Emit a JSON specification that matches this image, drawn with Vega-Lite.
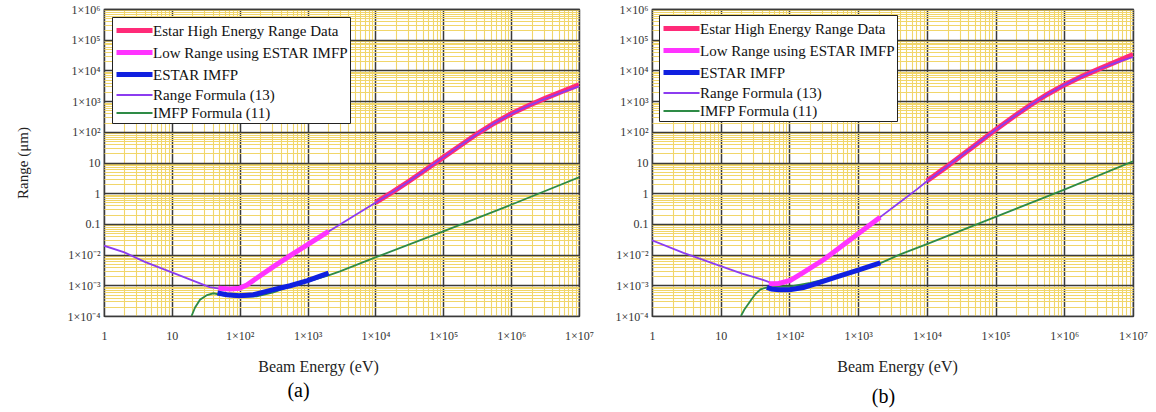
{
 "$schema": "https://vega.github.io/schema/vega-lite/v6.json",
 "background": "white",
 "padding": {"left": 14, "top": 2, "right": 0, "bottom": 0},
 "spacing": 19,
 "config": {
  "font": "Liberation Serif",
  "view": {"stroke": "#333", "strokeWidth": 1.2},
  "axis": {"labelFont": "Liberation Serif", "titleFont": "Liberation Serif"},
  "legend": {"labelFont": "Liberation Serif"},
  "title": {"font": "Liberation Serif"}
 },
 "datasets": {
  "d": [
   {"p":"a","s":"Estar High Energy Range Data","E":1e4,"R":0.49},{"p":"a","s":"Estar High Energy Range Data","E":17800,"R":1.08},{"p":"a","s":"Estar High Energy Range Data","E":31600,"R":2.5},{"p":"a","s":"Estar High Energy Range Data","E":56200,"R":6.0},{"p":"a","s":"Estar High Energy Range Data","E":1e5,"R":14.7},{"p":"a","s":"Estar High Energy Range Data","E":178000,"R":36},{"p":"a","s":"Estar High Energy Range Data","E":316000,"R":86},{"p":"a","s":"Estar High Energy Range Data","E":562000,"R":190},{"p":"a","s":"Estar High Energy Range Data","E":1e6,"R":385},{"p":"a","s":"Estar High Energy Range Data","E":1780000,"R":710},{"p":"a","s":"Estar High Energy Range Data","E":3160000,"R":1230},{"p":"a","s":"Estar High Energy Range Data","E":5620000,"R":2050},{"p":"a","s":"Estar High Energy Range Data","E":1e7,"R":3400},
   {"p":"a","s":"Low Range using ESTAR IMFP","E":48.5,"R":0.0008},{"p":"a","s":"Low Range using ESTAR IMFP","E":72,"R":0.00076},{"p":"a","s":"Low Range using ESTAR IMFP","E":99,"R":0.0008},{"p":"a","s":"Low Range using ESTAR IMFP","E":127,"R":0.00102},{"p":"a","s":"Low Range using ESTAR IMFP","E":179,"R":0.00173},{"p":"a","s":"Low Range using ESTAR IMFP","E":314,"R":0.00404},{"p":"a","s":"Low Range using ESTAR IMFP","E":553,"R":0.0092},{"p":"a","s":"Low Range using ESTAR IMFP","E":1000,"R":0.021},{"p":"a","s":"Low Range using ESTAR IMFP","E":2040,"R":0.057},
   {"p":"a","s":"ESTAR IMFP","E":47,"R":0.00056},{"p":"a","s":"ESTAR IMFP","E":64.5,"R":0.000494},{"p":"a","s":"ESTAR IMFP","E":99,"R":0.00046},{"p":"a","s":"ESTAR IMFP","E":159,"R":0.000494},{"p":"a","s":"ESTAR IMFP","E":314,"R":0.00072},{"p":"a","s":"ESTAR IMFP","E":553,"R":0.00097},{"p":"a","s":"ESTAR IMFP","E":1000,"R":0.00141},{"p":"a","s":"ESTAR IMFP","E":2040,"R":0.0025},
   {"p":"a","s":"Range Formula (13)","E":1,"R":0.0195},{"p":"a","s":"Range Formula (13)","E":2,"R":0.0118},{"p":"a","s":"Range Formula (13)","E":4,"R":0.0058},{"p":"a","s":"Range Formula (13)","E":10,"R":0.00265},{"p":"a","s":"Range Formula (13)","E":20,"R":0.00145},{"p":"a","s":"Range Formula (13)","E":36,"R":0.00087},{"p":"a","s":"Range Formula (13)","E":48,"R":0.0008},{"p":"a","s":"Range Formula (13)","E":72,"R":0.00076},{"p":"a","s":"Range Formula (13)","E":99,"R":0.0008},{"p":"a","s":"Range Formula (13)","E":127,"R":0.00102},{"p":"a","s":"Range Formula (13)","E":179,"R":0.00173},{"p":"a","s":"Range Formula (13)","E":314,"R":0.00404},{"p":"a","s":"Range Formula (13)","E":553,"R":0.0092},{"p":"a","s":"Range Formula (13)","E":1000,"R":0.021},{"p":"a","s":"Range Formula (13)","E":2040,"R":0.057},{"p":"a","s":"Range Formula (13)","E":5000,"R":0.19},{"p":"a","s":"Range Formula (13)","E":1e4,"R":0.49},{"p":"a","s":"Range Formula (13)","E":17800,"R":1.08},{"p":"a","s":"Range Formula (13)","E":31600,"R":2.5},{"p":"a","s":"Range Formula (13)","E":56200,"R":6.0},{"p":"a","s":"Range Formula (13)","E":1e5,"R":14.7},{"p":"a","s":"Range Formula (13)","E":178000,"R":36},{"p":"a","s":"Range Formula (13)","E":316000,"R":85},{"p":"a","s":"Range Formula (13)","E":562000,"R":189},{"p":"a","s":"Range Formula (13)","E":1e6,"R":382},{"p":"a","s":"Range Formula (13)","E":1780000,"R":700},{"p":"a","s":"Range Formula (13)","E":3160000,"R":1194},{"p":"a","s":"Range Formula (13)","E":5620000,"R":1930},{"p":"a","s":"Range Formula (13)","E":1e7,"R":3050},
   {"p":"a","s":"IMFP Formula (11)","E":19.5,"R":0.0001},{"p":"a","s":"IMFP Formula (11)","E":22,"R":0.00019},{"p":"a","s":"IMFP Formula (11)","E":26,"R":0.00034},{"p":"a","s":"IMFP Formula (11)","E":33,"R":0.00048},{"p":"a","s":"IMFP Formula (11)","E":41,"R":0.00055},{"p":"a","s":"IMFP Formula (11)","E":57,"R":0.00047},{"p":"a","s":"IMFP Formula (11)","E":100,"R":0.00041},{"p":"a","s":"IMFP Formula (11)","E":178,"R":0.00044},{"p":"a","s":"IMFP Formula (11)","E":314,"R":0.00059},{"p":"a","s":"IMFP Formula (11)","E":500,"R":0.00086},{"p":"a","s":"IMFP Formula (11)","E":1000,"R":0.00132},{"p":"a","s":"IMFP Formula (11)","E":2040,"R":0.0021},{"p":"a","s":"IMFP Formula (11)","E":3000,"R":0.00285},{"p":"a","s":"IMFP Formula (11)","E":1e4,"R":0.0081},{"p":"a","s":"IMFP Formula (11)","E":1e5,"R":0.057},{"p":"a","s":"IMFP Formula (11)","E":1e6,"R":0.42},{"p":"a","s":"IMFP Formula (11)","E":1e7,"R":3.3},
   {"p":"b","s":"Estar High Energy Range Data","E":1e4,"R":2.51},{"p":"b","s":"Estar High Energy Range Data","E":17800,"R":6.3},{"p":"b","s":"Estar High Energy Range Data","E":31600,"R":16.5},{"p":"b","s":"Estar High Energy Range Data","E":56200,"R":44},{"p":"b","s":"Estar High Energy Range Data","E":1e5,"R":116},{"p":"b","s":"Estar High Energy Range Data","E":178000,"R":297},{"p":"b","s":"Estar High Energy Range Data","E":316000,"R":724},{"p":"b","s":"Estar High Energy Range Data","E":562000,"R":1640},{"p":"b","s":"Estar High Energy Range Data","E":1e6,"R":3370},{"p":"b","s":"Estar High Energy Range Data","E":1780000,"R":6280},{"p":"b","s":"Estar High Energy Range Data","E":3160000,"R":11000},{"p":"b","s":"Estar High Energy Range Data","E":5620000,"R":19000},{"p":"b","s":"Estar High Energy Range Data","E":1e7,"R":33000},
   {"p":"b","s":"Low Range using ESTAR IMFP","E":50,"R":0.0011},{"p":"b","s":"Low Range using ESTAR IMFP","E":70,"R":0.00115},{"p":"b","s":"Low Range using ESTAR IMFP","E":103,"R":0.00145},{"p":"b","s":"Low Range using ESTAR IMFP","E":150,"R":0.0024},{"p":"b","s":"Low Range using ESTAR IMFP","E":317,"R":0.0069},{"p":"b","s":"Low Range using ESTAR IMFP","E":1000,"R":0.048},{"p":"b","s":"Low Range using ESTAR IMFP","E":2090,"R":0.166},
   {"p":"b","s":"ESTAR IMFP","E":47,"R":0.00085},{"p":"b","s":"ESTAR IMFP","E":55,"R":0.00075},{"p":"b","s":"ESTAR IMFP","E":70,"R":0.00072},{"p":"b","s":"ESTAR IMFP","E":100,"R":0.00072},{"p":"b","s":"ESTAR IMFP","E":160,"R":0.00085},{"p":"b","s":"ESTAR IMFP","E":250,"R":0.00115},{"p":"b","s":"ESTAR IMFP","E":500,"R":0.0019},{"p":"b","s":"ESTAR IMFP","E":1000,"R":0.0031},{"p":"b","s":"ESTAR IMFP","E":2100,"R":0.0054},
   {"p":"b","s":"Range Formula (13)","E":1,"R":0.029},{"p":"b","s":"Range Formula (13)","E":2.87,"R":0.0114},{"p":"b","s":"Range Formula (13)","E":10,"R":0.0042},{"p":"b","s":"Range Formula (13)","E":20,"R":0.00245},{"p":"b","s":"Range Formula (13)","E":38,"R":0.0016},{"p":"b","s":"Range Formula (13)","E":53,"R":0.00123},{"p":"b","s":"Range Formula (13)","E":70,"R":0.00125},{"p":"b","s":"Range Formula (13)","E":103,"R":0.00145},{"p":"b","s":"Range Formula (13)","E":150,"R":0.0024},{"p":"b","s":"Range Formula (13)","E":317,"R":0.0069},{"p":"b","s":"Range Formula (13)","E":1000,"R":0.048},{"p":"b","s":"Range Formula (13)","E":2090,"R":0.166},{"p":"b","s":"Range Formula (13)","E":4000,"R":0.5},{"p":"b","s":"Range Formula (13)","E":7300,"R":1.38},{"p":"b","s":"Range Formula (13)","E":1e4,"R":2.45},{"p":"b","s":"Range Formula (13)","E":17800,"R":6.3},{"p":"b","s":"Range Formula (13)","E":31600,"R":16.5},{"p":"b","s":"Range Formula (13)","E":56200,"R":44},{"p":"b","s":"Range Formula (13)","E":1e5,"R":116},{"p":"b","s":"Range Formula (13)","E":178000,"R":297},{"p":"b","s":"Range Formula (13)","E":316000,"R":724},{"p":"b","s":"Range Formula (13)","E":562000,"R":1640},{"p":"b","s":"Range Formula (13)","E":1e6,"R":3370},{"p":"b","s":"Range Formula (13)","E":1780000,"R":6280},{"p":"b","s":"Range Formula (13)","E":3160000,"R":10900},{"p":"b","s":"Range Formula (13)","E":5620000,"R":18000},{"p":"b","s":"Range Formula (13)","E":1e7,"R":27200},
   {"p":"b","s":"IMFP Formula (11)","E":19.7,"R":0.0001},{"p":"b","s":"IMFP Formula (11)","E":22,"R":0.00016},{"p":"b","s":"IMFP Formula (11)","E":27,"R":0.00031},{"p":"b","s":"IMFP Formula (11)","E":32,"R":0.00052},{"p":"b","s":"IMFP Formula (11)","E":38,"R":0.00074},{"p":"b","s":"IMFP Formula (11)","E":50,"R":0.00088},{"p":"b","s":"IMFP Formula (11)","E":60,"R":0.00093},{"p":"b","s":"IMFP Formula (11)","E":100,"R":0.00091},{"p":"b","s":"IMFP Formula (11)","E":200,"R":0.0012},{"p":"b","s":"IMFP Formula (11)","E":500,"R":0.00195},{"p":"b","s":"IMFP Formula (11)","E":1000,"R":0.0029},{"p":"b","s":"IMFP Formula (11)","E":2000,"R":0.005},{"p":"b","s":"IMFP Formula (11)","E":4000,"R":0.01},{"p":"b","s":"IMFP Formula (11)","E":1e4,"R":0.022},{"p":"b","s":"IMFP Formula (11)","E":1e5,"R":0.17},{"p":"b","s":"IMFP Formula (11)","E":1e6,"R":1.3},{"p":"b","s":"IMFP Formula (11)","E":1e7,"R":11}
  ]
 },
 "resolve": {
  "scale": {"x": "independent", "y": "independent", "color": "independent", "strokeWidth": "independent"},
  "legend": {"color": "independent", "strokeWidth": "independent"}
 },
 "hconcat": [
  {
   "width": 475, "height": 307,
   "data": {"name": "d"},
   "title": {"text": "(a)", "orient": "bottom", "dx": -43, "offset": 7, "fontSize": 20, "font": "Liberation Serif", "fontWeight": "normal", "color": "#000"},
   "encoding": {
    "x": {"field": "E", "type": "quantitative", "scale": {"type": "log", "domain": [1, 10000000]},
     "axis": {"values": [1,2,3,4,5,6,7,8,9,10,20,30,40,50,60,70,80,90,100,200,300,400,500,600,700,800,900,1000,2000,3000,4000,5000,6000,7000,8000,9000,10000,20000,30000,40000,50000,60000,70000,80000,90000,100000,200000,300000,400000,500000,600000,700000,800000,900000,1000000,2000000,3000000,4000000,5000000,6000000,7000000,8000000,9000000,10000000],
      "labelExpr": "abs(log(datum.value)/LN10 - round(log(datum.value)/LN10)) < 0.001 ? ['1×10⁻⁴','1×10⁻³','1×10⁻²','0.1','1','10','1×10²','1×10³','1×10⁴','1×10⁵','1×10⁶','1×10⁷'][round(log(datum.value)/LN10)+4] : ''",
      "title": "Beam Energy (eV)", "titleX": 214, "titleY": 42, "titleBaseline": "top",
      "ticks": false, "tickSize": 0, "domain": false, "labelPadding": 14, "labelOverlap": false, "labelFlush": false, "labelBound": false,
      "labelFont": "Liberation Serif", "labelFontSize": 12, "labelColor": "#333",
      "titleFont": "Liberation Serif", "titleFontSize": 16, "titleFontWeight": "normal", "titleColor": "#222",
      "grid": true, "gridOpacity": 1,
      "gridColor": {"condition": {"test": "abs(log(datum.value)/LN10 - round(log(datum.value)/LN10)) < 0.001", "value": "#3a3a3a"}, "value": "#f1d66a"},
      "gridWidth": {"condition": {"test": "abs(log(datum.value)/LN10 - round(log(datum.value)/LN10)) < 0.001", "value": 1.5}, "value": 1.1}}},
    "y": {"field": "R", "type": "quantitative", "scale": {"type": "log", "domain": [0.0001, 1000000]},
     "axis": {"values": [0.0001,0.0002,0.0003,0.0004,0.0005,0.0006,0.0007,0.0008,0.0009,0.001,0.002,0.003,0.004,0.005,0.006,0.007,0.008,0.009,0.01,0.02,0.03,0.04,0.05,0.06,0.07,0.08,0.09,0.1,0.2,0.3,0.4,0.5,0.6,0.7,0.8,0.9,1,2,3,4,5,6,7,8,9,10,20,30,40,50,60,70,80,90,100,200,300,400,500,600,700,800,900,1000,2000,3000,4000,5000,6000,7000,8000,9000,10000,20000,30000,40000,50000,60000,70000,80000,90000,100000,200000,300000,400000,500000,600000,700000,800000,900000,1000000],
      "labelExpr": "abs(log(datum.value)/LN10 - round(log(datum.value)/LN10)) < 0.001 ? ['1×10⁻⁴','1×10⁻³','1×10⁻²','0.1','1','10','1×10²','1×10³','1×10⁴','1×10⁵','1×10⁶','1×10⁷'][round(log(datum.value)/LN10)+4] : ''",
      "title": "Range (μm)", "titlePadding": 37,
      "ticks": false, "tickSize": 0, "domain": false, "labelPadding": 4, "labelOverlap": false, "labelFlush": false, "labelBound": false,
      "labelFont": "Liberation Serif", "labelFontSize": 12, "labelColor": "#333",
      "titleFont": "Liberation Serif", "titleFontSize": 15, "titleFontWeight": "normal", "titleColor": "#222",
      "grid": true, "gridOpacity": 1,
      "gridColor": {"condition": {"test": "abs(log(datum.value)/LN10 - round(log(datum.value)/LN10)) < 0.001", "value": "#3a3a3a"}, "value": "#f1d66a"},
      "gridWidth": {"condition": {"test": "abs(log(datum.value)/LN10 - round(log(datum.value)/LN10)) < 0.001", "value": 1.5}, "value": 1.1}}},
    "color": {"field": "s", "type": "nominal",
     "scale": {"domain": ["Estar High Energy Range Data", "Low Range using ESTAR IMFP", "ESTAR IMFP", "Range Formula (13)", "IMFP Formula (11)"], "range": ["#ff2a78", "#ff33ff", "#1020e0", "#8c3cf0", "#2e8b46"]},
     "legend": {"orient": "none", "legendX": 8, "legendY": 8, "title": null, "symbolType": "M-1,0H3", "symbolSize": 324, "labelFont": "Liberation Serif", "labelFontSize": 15, "labelColor": "#111", "fillColor": "white", "strokeColor": "#222", "padding": 2, "rowPadding": -1.4, "labelOffset": 16, "labelLimit": 400}},
    "strokeWidth": {"field": "s", "type": "nominal",
     "scale": {"type": "ordinal", "domain": ["Estar High Energy Range Data", "Low Range using ESTAR IMFP", "ESTAR IMFP", "Range Formula (13)", "IMFP Formula (11)"], "range": [5, 5, 5, 1.8, 1.8]},
     "legend": {"orient": "none", "legendX": 8, "legendY": 8, "title": null, "symbolType": "M-1,0H3", "symbolSize": 324, "labelFont": "Liberation Serif", "labelFontSize": 15, "labelColor": "#111", "fillColor": "white", "strokeColor": "#222", "padding": 2, "rowPadding": -1.4, "labelOffset": 16, "labelLimit": 400}}
   },
   "layer": [
    {"transform": [{"filter": "datum.p == 'a' && datum.s == 'Estar High Energy Range Data'"}], "mark": {"type": "line", "clip": true}},
    {"transform": [{"filter": "datum.p == 'a' && datum.s == 'Range Formula (13)'"}], "mark": {"type": "line", "clip": true}},
    {"transform": [{"filter": "datum.p == 'a' && datum.s == 'IMFP Formula (11)'"}], "mark": {"type": "line", "clip": true}},
    {"transform": [{"filter": "datum.p == 'a' && datum.s == 'Low Range using ESTAR IMFP'"}], "mark": {"type": "line", "clip": true}},
    {"transform": [{"filter": "datum.p == 'a' && datum.s == 'ESTAR IMFP'"}], "mark": {"type": "line", "clip": true}}
   ]
  },
  {
   "width": 481, "height": 307,
   "data": {"name": "d"},
   "title": {"text": "(b)", "orient": "bottom", "dx": -9, "offset": 13, "fontSize": 20, "font": "Liberation Serif", "fontWeight": "normal", "color": "#000"},
   "encoding": {
    "x": {"field": "E", "type": "quantitative", "scale": {"type": "log", "domain": [1, 10000000]},
     "axis": {"values": [1,2,3,4,5,6,7,8,9,10,20,30,40,50,60,70,80,90,100,200,300,400,500,600,700,800,900,1000,2000,3000,4000,5000,6000,7000,8000,9000,10000,20000,30000,40000,50000,60000,70000,80000,90000,100000,200000,300000,400000,500000,600000,700000,800000,900000,1000000,2000000,3000000,4000000,5000000,6000000,7000000,8000000,9000000,10000000],
      "labelExpr": "abs(log(datum.value)/LN10 - round(log(datum.value)/LN10)) < 0.001 ? ['1×10⁻⁴','1×10⁻³','1×10⁻²','0.1','1','10','1×10²','1×10³','1×10⁴','1×10⁵','1×10⁶','1×10⁷'][round(log(datum.value)/LN10)+4] : ''",
      "title": "Beam Energy (eV)", "titleX": 245, "titleY": 42, "titleBaseline": "top",
      "ticks": false, "tickSize": 0, "domain": false, "labelPadding": 14, "labelOverlap": false, "labelFlush": false, "labelBound": false,
      "labelFont": "Liberation Serif", "labelFontSize": 12, "labelColor": "#333",
      "titleFont": "Liberation Serif", "titleFontSize": 16, "titleFontWeight": "normal", "titleColor": "#222",
      "grid": true, "gridOpacity": 1,
      "gridColor": {"condition": {"test": "abs(log(datum.value)/LN10 - round(log(datum.value)/LN10)) < 0.001", "value": "#3a3a3a"}, "value": "#f1d66a"},
      "gridWidth": {"condition": {"test": "abs(log(datum.value)/LN10 - round(log(datum.value)/LN10)) < 0.001", "value": 1.5}, "value": 1.1}}},
    "y": {"field": "R", "type": "quantitative", "scale": {"type": "log", "domain": [0.0001, 1000000]},
     "axis": {"values": [0.0001,0.0002,0.0003,0.0004,0.0005,0.0006,0.0007,0.0008,0.0009,0.001,0.002,0.003,0.004,0.005,0.006,0.007,0.008,0.009,0.01,0.02,0.03,0.04,0.05,0.06,0.07,0.08,0.09,0.1,0.2,0.3,0.4,0.5,0.6,0.7,0.8,0.9,1,2,3,4,5,6,7,8,9,10,20,30,40,50,60,70,80,90,100,200,300,400,500,600,700,800,900,1000,2000,3000,4000,5000,6000,7000,8000,9000,10000,20000,30000,40000,50000,60000,70000,80000,90000,100000,200000,300000,400000,500000,600000,700000,800000,900000,1000000],
      "labelExpr": "abs(log(datum.value)/LN10 - round(log(datum.value)/LN10)) < 0.001 ? ['1×10⁻⁴','1×10⁻³','1×10⁻²','0.1','1','10','1×10²','1×10³','1×10⁴','1×10⁵','1×10⁶','1×10⁷'][round(log(datum.value)/LN10)+4] : ''",
      "title": null,
      "ticks": false, "tickSize": 0, "domain": false, "labelPadding": 4, "labelOverlap": false, "labelFlush": false, "labelBound": false,
      "labelFont": "Liberation Serif", "labelFontSize": 12, "labelColor": "#333",
      "grid": true, "gridOpacity": 1,
      "gridColor": {"condition": {"test": "abs(log(datum.value)/LN10 - round(log(datum.value)/LN10)) < 0.001", "value": "#3a3a3a"}, "value": "#f1d66a"},
      "gridWidth": {"condition": {"test": "abs(log(datum.value)/LN10 - round(log(datum.value)/LN10)) < 0.001", "value": 1.5}, "value": 1.1}}},
    "color": {"field": "s", "type": "nominal",
     "scale": {"domain": ["Estar High Energy Range Data", "Low Range using ESTAR IMFP", "ESTAR IMFP", "Range Formula (13)", "IMFP Formula (11)"], "range": ["#ff2a78", "#ff33ff", "#1020e0", "#8c3cf0", "#2e8b46"]},
     "legend": {"orient": "none", "legendX": 7, "legendY": 6, "title": null, "symbolType": "M-1,0H3", "symbolSize": 324, "labelFont": "Liberation Serif", "labelFontSize": 15, "labelColor": "#111", "fillColor": "white", "strokeColor": "#222", "padding": 2, "rowPadding": -1.4, "labelOffset": 16, "labelLimit": 400}},
    "strokeWidth": {"field": "s", "type": "nominal",
     "scale": {"type": "ordinal", "domain": ["Estar High Energy Range Data", "Low Range using ESTAR IMFP", "ESTAR IMFP", "Range Formula (13)", "IMFP Formula (11)"], "range": [5, 5, 5, 1.8, 1.8]},
     "legend": {"orient": "none", "legendX": 7, "legendY": 6, "title": null, "symbolType": "M-1,0H3", "symbolSize": 324, "labelFont": "Liberation Serif", "labelFontSize": 15, "labelColor": "#111", "fillColor": "white", "strokeColor": "#222", "padding": 2, "rowPadding": -1.4, "labelOffset": 16, "labelLimit": 400}}
   },
   "layer": [
    {"transform": [{"filter": "datum.p == 'b' && datum.s == 'Estar High Energy Range Data'"}], "mark": {"type": "line", "clip": true}},
    {"transform": [{"filter": "datum.p == 'b' && datum.s == 'Range Formula (13)'"}], "mark": {"type": "line", "clip": true}},
    {"transform": [{"filter": "datum.p == 'b' && datum.s == 'IMFP Formula (11)'"}], "mark": {"type": "line", "clip": true}},
    {"transform": [{"filter": "datum.p == 'b' && datum.s == 'Low Range using ESTAR IMFP'"}], "mark": {"type": "line", "clip": true}},
    {"transform": [{"filter": "datum.p == 'b' && datum.s == 'ESTAR IMFP'"}], "mark": {"type": "line", "clip": true}}
   ]
  }
 ]
}
